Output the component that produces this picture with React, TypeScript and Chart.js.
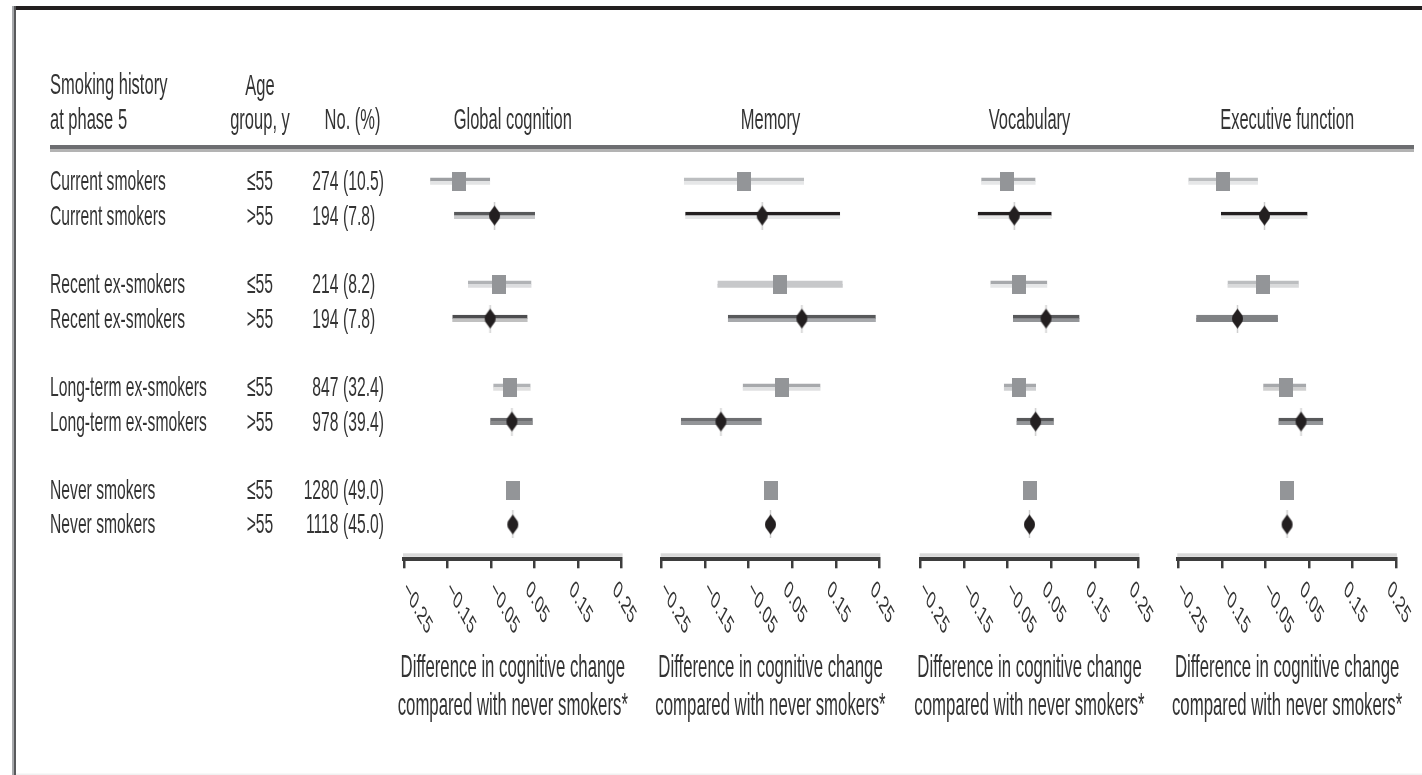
import React, { useEffect, useRef } from 'react';
import { Chart, registerables } from 'chart.js';

Chart.register(...registerables);

// ---------------- data ----------------
const groups = ['Current smokers', 'Recent ex-smokers', 'Long-term ex-smokers', 'Never smokers'];
const ageGroups = ['≤55', '>55'];
const counts = ['274 (10.5)', '194 (7.8)', '214 (8.2)', '194 (7.8)', '847 (32.4)', '978 (39.4)', '1280 (49.0)', '1118 (45.0)'];
const panelTitles = ['Global cognition', 'Memory', 'Vocabulary', 'Executive function'];
const tickValues = [-0.25, -0.15, -0.05, 0.05, 0.15, 0.25];
const tickLabels = ['−0.25', '−0.15', '−0.05', '0.05', '0.15', '0.25'];
const axisTitleLines = ['Difference in cognitive change', 'compared with never smokers*'];
const headerHistory = ['Smoking history', 'at phase 5'];
const headerAge = ['Age', 'group, y'];
const headerCount = 'No. (%)';

// rows: Current ≤55, Current >55, Recent ≤55, Recent >55, Long-term ≤55, Long-term >55, Never ≤55, Never >55
const globalEst = [-0.124, -0.042, -0.031, -0.052, -0.006, -0.002, 0, 0];
const globalLo = [-0.190, -0.135, -0.103, -0.139, -0.045, -0.052, null, null];
const globalHi = [-0.052, 0.051, 0.043, 0.034, 0.041, 0.046, null, null];

const memoryEst = [-0.062, -0.019, 0.022, 0.072, 0.027, -0.114, 0, 0];
const memoryLo = [-0.199, -0.196, -0.122, -0.098, -0.064, -0.206, null, null];
const memoryHi = [0.077, 0.160, 0.166, 0.242, 0.115, -0.020, null, null];

const vocabEst = [-0.051, -0.035, -0.025, 0.038, -0.025, 0.014, 0, 0];
const vocabLo = [-0.111, -0.119, -0.090, -0.038, -0.059, -0.030, null, null];
const vocabHi = [0.014, 0.051, 0.041, 0.115, 0.015, 0.056, null, null];

const execEst = [-0.148, -0.052, -0.055, -0.114, -0.003, 0.032, 0, 0];
const execLo = [-0.227, -0.152, -0.137, -0.209, -0.055, -0.020, null, null];
const execHi = [-0.067, 0.047, 0.027, -0.021, 0.044, 0.083, null, null];

const panelData = [
  { est: globalEst, lo: globalLo, hi: globalHi },
  { est: memoryEst, lo: memoryLo, hi: memoryHi },
  { est: vocabEst, lo: vocabLo, hi: vocabHi },
  { est: execEst, lo: execLo, hi: execHi },
];

// ---------------- styles / layout ----------------
const ciColors: string[][][] = [
  [['#9d9fa2', '#e3e4e5'], ['#58595b', '#c7c8ca'], ['#b1b3b6', '#dcdddf'], ['#4d4d4f', '#c0c0c0'], ['#b1b3b6', '#e0e0e0'], ['#6d6e71', '#8a8b8d']],
  [['#bcbec0', '#e6e7e8'], ['#231f20', '#e6e7e8'], ['#c7c8ca', '#c7c8ca'], ['#58595b', '#a7a9ac'], ['#a7a9ac', '#e0e1e2'], ['#6d6e71', '#939598']],
  [['#a7a9ac', '#e6e7e8'], ['#231f20', '#e8e8e8'], ['#a7a9ac', '#e6e7e8'], ['#58595b', '#939598'], ['#a7a9ac', '#cfd0d2'], ['#58595b', '#939598']],
  [['#bcbec0', '#e6e7e8'], ['#231f20', '#e8e8e8'], ['#bcbec0', '#d9dadb'], ['#808285', '#808285'], ['#a7a9ac', '#d0d0d0'], ['#58595b', '#939598']],
];

const PAGE_W = 1422;
const PAGE_H = 775;
const PANEL_LEFT = [404, 661.7, 920.7, 1178.3];
const PANEL_WIDTH = 217.6;
const PLOT_TOP = 181.3;
const PLOT_BOTTOM = 558.8;
const FONT = '"Liberation Sans", Arial, Helvetica, sans-serif';
const SQUASH = 0.55;
const TEXT_COLOR = '#333333';

const rows = groups.flatMap((g, gi) =>
  ageGroups.map((a, ai) => ({ label: g, age: a, slot: gi * (ageGroups.length + 1) + ai }))
);
const SLOT_MAX = groups.length * (ageGroups.length + 1) - 1;

function drawText(
  ctx: CanvasRenderingContext2D,
  text: string,
  x: number,
  y: number,
  size: number,
  align: CanvasTextAlign = 'left',
  color: string = TEXT_COLOR
) {
  ctx.save();
  ctx.translate(x, y);
  ctx.scale(SQUASH, 1);
  ctx.font = `${size}px ${FONT}`;
  ctx.fillStyle = color;
  ctx.textAlign = align;
  ctx.textBaseline = 'alphabetic';
  ctx.fillText(text, 0, 0);
  ctx.restore();
}

function makeSquare() {
  const c = document.createElement('canvas');
  c.width = 14;
  c.height = 19;
  const g = c.getContext('2d')!;
  g.fillStyle = '#939598';
  g.fillRect(0, 0, 14, 19);
  return c;
}

function makeDiamond() {
  const c = document.createElement('canvas');
  c.width = 13;
  c.height = 28;
  const g = c.getContext('2d')!;
  g.strokeStyle = '#cfcfcf';
  g.lineWidth = 1.5;
  g.beginPath();
  g.moveTo(6.5, 0);
  g.lineTo(6.5, 28);
  g.stroke();
  g.fillStyle = '#231f20';
  g.beginPath();
  g.moveTo(6.5, 4);
  g.lineTo(11.5, 11);
  g.lineTo(12, 14);
  g.lineTo(11.5, 17);
  g.lineTo(6.5, 24);
  g.lineTo(1.5, 17);
  g.lineTo(1, 14);
  g.lineTo(1.5, 11);
  g.closePath();
  g.fill();
  return c;
}

function buildChart(canvas: HTMLCanvasElement, pi: number, square: HTMLCanvasElement, diamond: HTMLCanvasElement) {
  const d = panelData[pi];
  const youngPts: any[] = [];
  const oldPts: any[] = [];
  const ciPts: any[] = [];
  const ciTop: string[] = [];
  const ciBottom: string[] = [];
  rows.forEach((r, i) => {
    const pt = { x: d.est[i], y: r.slot };
    if (r.age === ageGroups[0]) youngPts.push(pt);
    else oldPts.push(pt);
    if (d.lo[i] !== null && d.hi[i] !== null) {
      ciPts.push({ x: [d.lo[i], d.hi[i]], y: r.slot });
      ciTop.push(ciColors[pi][i][0]);
      ciBottom.push(ciColors[pi][i][1]);
    }
  });

  const left = PANEL_LEFT[pi];
  const right = left + PANEL_WIDTH;

  const deco = {
    id: 'deco' + pi,
    beforeDraw(chart: any) {
      const ctx = chart.ctx as CanvasRenderingContext2D;
      const area = chart.chartArea;
      ctx.save();
      if (pi === 0) {
        // frame
        ctx.fillStyle = '#231f20';
        ctx.fillRect(13, 6, PAGE_W - 13, 4);
        ctx.fillStyle = '#a7a9ac';
        ctx.fillRect(12, 6, 2, PAGE_H - 6);
        ctx.fillStyle = '#58595b';
        ctx.fillRect(14, 6, 2, PAGE_H - 6);
        ctx.fillStyle = '#f1f1f1';
        ctx.fillRect(16, PAGE_H - 1.5, PAGE_W - 16, 1.5);
        // header rule
        ctx.fillStyle = '#6d6e71';
        ctx.fillRect(50, 145, 1364, 4);
        ctx.fillStyle = '#b3b3b3';
        ctx.fillRect(50, 149, 1364, 3);
      }
      // light strip above axis line
      ctx.fillStyle = '#d9d9d9';
      ctx.fillRect(area.left - 1, area.bottom - 5.5, area.right - area.left + 2, 3.5);
      ctx.restore();
    },
    afterDraw(chart: any) {
      const ctx = chart.ctx as CanvasRenderingContext2D;
      const area = chart.chartArea;
      const xs = chart.scales.x;
      const ys = chart.scales.y;
      const cx = (area.left + area.right) / 2;
      if (pi === 0) {
        drawText(ctx, headerHistory[0], 50, 93.5, 30);
        drawText(ctx, headerHistory[1], 50, 129, 30);
        drawText(ctx, headerAge[0], 260, 94.5, 30, 'center');
        drawText(ctx, headerAge[1], 260, 129, 30, 'center');
        drawText(ctx, headerCount, 352.5, 129, 30, 'center');
        rows.forEach((r, i) => {
          const y = ys.getPixelForValue(r.slot) + 9;
          drawText(ctx, r.label, 50, y, 28.5);
          drawText(ctx, r.age, 260, y, 28.5, 'center');
          const sp = counts[i].indexOf(' ');
          drawText(ctx, counts[i].slice(0, sp), 338.5, y, 28.5, 'right');
          drawText(ctx, counts[i].slice(sp + 1), 343, y, 28.5, 'left');
        });
      }
      drawText(ctx, panelTitles[pi], cx, 129, 30, 'center');
      tickValues.forEach((v, i) => {
        const label = tickLabels[i];
        const px = xs.getPixelForValue(v);
        const ax = px + (label.startsWith('−') ? -1.5 : -9.5);
        const ay = area.bottom + 32;
        ctx.save();
        ctx.translate(ax, ay);
        ctx.scale(SQUASH, 1);
        ctx.rotate(Math.PI / 4);
        ctx.font = `25px ${FONT}`;
        ctx.fillStyle = TEXT_COLOR;
        ctx.textAlign = 'left';
        ctx.textBaseline = 'alphabetic';
        ctx.fillText(label, 0, 0);
        ctx.restore();
      });
      drawText(ctx, axisTitleLines[0], cx, area.bottom + 118.2, 30.5, 'center');
      drawText(ctx, axisTitleLines[1], cx, area.bottom + 156.2, 30.5, 'center');
    },
  };

  return new Chart(canvas, {
    type: 'bar',
    data: {
      datasets: [
        {
          type: 'scatter',
          label: ageGroups[1],
          data: oldPts,
          pointStyle: diamond as any,
          pointRadius: 10,
          clip: false as any,
          order: 0,
        } as any,
        {
          type: 'scatter',
          label: ageGroups[0],
          data: youngPts,
          pointStyle: square as any,
          pointRadius: 10,
          clip: false as any,
          order: 1,
        } as any,
        {
          type: 'bar',
          label: '95% CI',
          data: ciPts,
          backgroundColor: ciBottom,
          borderColor: ciTop,
          borderWidth: { top: 4, bottom: 0, left: 0, right: 0 },
          borderSkipped: false,
          barThickness: 7,
          clip: false as any,
          order: 2,
        } as any,
      ],
    },
    options: {
      indexAxis: 'y',
      responsive: false,
      animation: false,
      events: [],
      layout: {
        padding: { left, right: PAGE_W - right, top: PLOT_TOP, bottom: PAGE_H - PLOT_BOTTOM },
      },
      plugins: { legend: { display: false }, tooltip: { enabled: false } },
      scales: {
        x: {
          type: 'linear',
          min: tickValues[0],
          max: tickValues[tickValues.length - 1],
          afterBuildTicks: (s: any) => {
            s.ticks = tickValues.map((v) => ({ value: v }));
          },
          afterFit: (s: any) => {
            s.height = 0;
          },
          ticks: { display: false },
          grid: { drawOnChartArea: false, drawTicks: true, tickLength: 9.5, lineWidth: 2.5, color: '#3d3d3d' },
          border: { display: true, color: '#3d3d3d', width: 4 },
        },
        y: {
          type: 'linear',
          display: false,
          reverse: true,
          offset: false,
          min: 0,
          max: SLOT_MAX,
        },
      },
    } as any,
    plugins: [deco],
  });
}

export default function App() {
  const canvases = useRef<(HTMLCanvasElement | null)[]>([]);

  useEffect(() => {
    const square = makeSquare();
    const diamond = makeDiamond();
    const charts = panelTitles.map((_, i) => buildChart(canvases.current[i]!, i, square, diamond));
    return () => charts.forEach((c) => c.destroy());
  }, []);

  return (
    <div
      style={{
        position: 'absolute',
        left: 0,
        top: 0,
        width: PAGE_W,
        height: PAGE_H,
        background: '#ffffff',
        overflow: 'hidden',
      }}
    >
      {panelTitles.map((t, i) => (
        <canvas
          key={t}
          ref={(el) => {
            canvases.current[i] = el;
          }}
          width={PAGE_W}
          height={PAGE_H}
          style={{ position: 'absolute', left: 0, top: 0, width: PAGE_W, height: PAGE_H }}
        />
      ))}
    </div>
  );
}
